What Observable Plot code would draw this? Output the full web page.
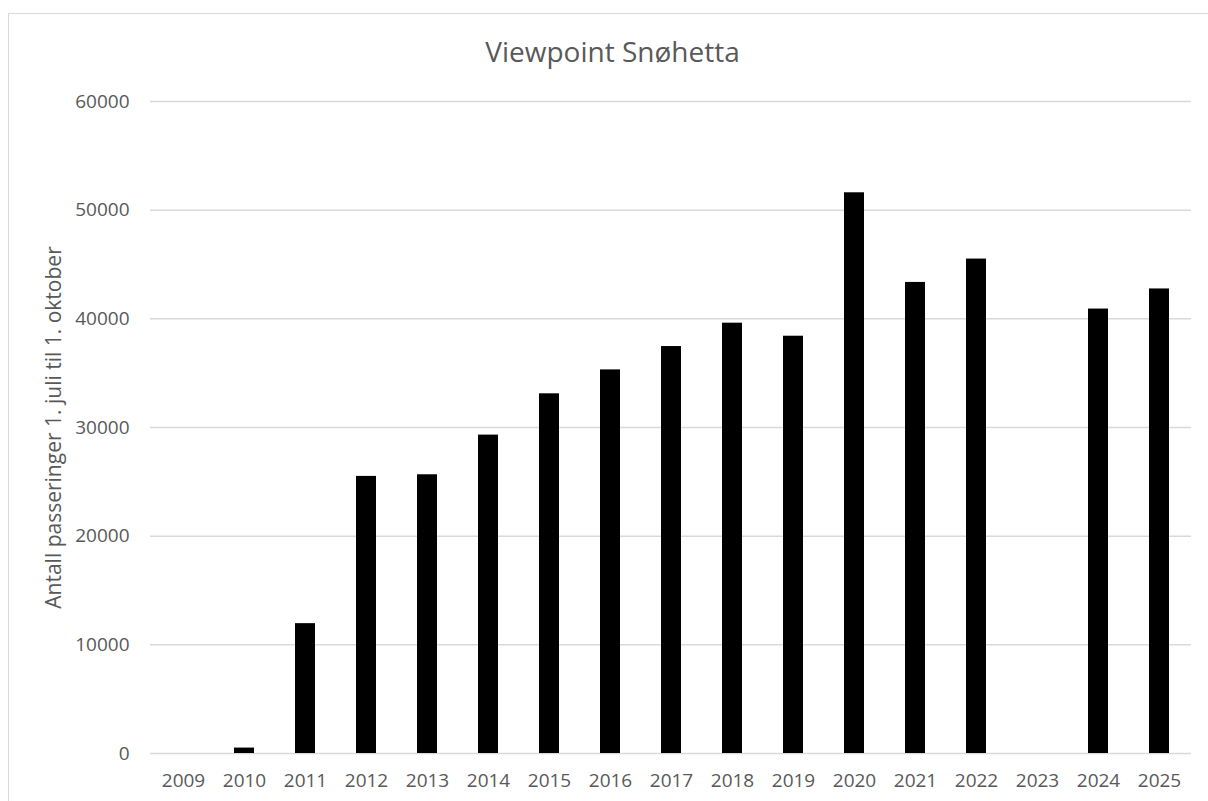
<!DOCTYPE html>
<html>
<head>
<meta charset="utf-8">
<script src="https://cdn.jsdelivr.net/npm/d3@7"></script>
<script src="https://cdn.jsdelivr.net/npm/@observablehq/plot@0.6"></script>
<style>
  html, body { margin: 0; padding: 0; background: #fff; overflow: hidden; }
  #wrap { position: relative; width: 1208px; height: 801px; }
  #frame { position: absolute; left: 8px; top: 13px; width: 1300px; height: 900px;
           border-left: 1.5px solid #d9d9d9; border-top: 1.5px solid #d9d9d9; box-sizing: border-box; }
  #title { position: absolute; left: 0; width: 1225px; top: 37px; text-align: center;
           font-family: "Open Sans", sans-serif; font-size: 28px; line-height: 28px; color: #595959; }
  #chart { position: absolute; left: 0; top: 0; }
</style>
</head>
<body>
<div id="wrap">
  <div id="frame"></div>
  <div id="chart"></div>
  <div id="title">Viewpoint Snøhetta</div>
</div>
<script>
const years = ["2009","2010","2011","2012","2013","2014","2015","2016","2017","2018","2019","2020","2021","2022","2023","2024","2025"];
const visitors = [0, 500, 11950, 25500, 25650, 29300, 33100, 35300, 37450, 39600, 38400, 51600, 43350, 45500, null, 40900, 42750];
const yTicks = [0, 10000, 20000, 30000, 40000, 50000, 60000];
const yLabel = "Antall passeringer 1. juli til 1. oktober";

const data = years.map((year, i) => ({year, value: visitors[i]}));

const chart = Plot.plot({
  width: 1208,
  height: 801,
  marginLeft: 150,
  marginRight: 17,
  marginTop: 101,
  marginBottom: 48,
  style: { fontFamily: "Open Sans, sans-serif", fontSize: "19px", color: "#595959", background: "transparent" },
  x: { type: "band", domain: years, paddingInner: 0.68, paddingOuter: 0.34, label: null },
  y: { domain: [0, 60000], label: null },
  marks: [
    Plot.gridY(yTicks, { stroke: "#d9d9d9", strokeWidth: 1.5, strokeOpacity: 1 }),
    Plot.barY(data.filter(d => d.value != null), { x: "year", y: "value", fill: "#000" }),
    Plot.axisX({ tickSize: 0, tickPadding: 20, fill: "#595959", fontSize: 19, label: null }),
    Plot.axisY(yTicks, { tickSize: 0, tickPadding: 21, fill: "#595959", fontSize: 19,
      tickFormat: d => String(d), label: null }),
    Plot.axisY([], { tickSize: 0, fill: "#595959", fontSize: 21,
      label: yLabel, labelAnchor: "center", labelArrow: "none", labelOffset: 104 })
  ]
});
document.getElementById("chart").appendChild(chart);
</script>
</body>
</html>
